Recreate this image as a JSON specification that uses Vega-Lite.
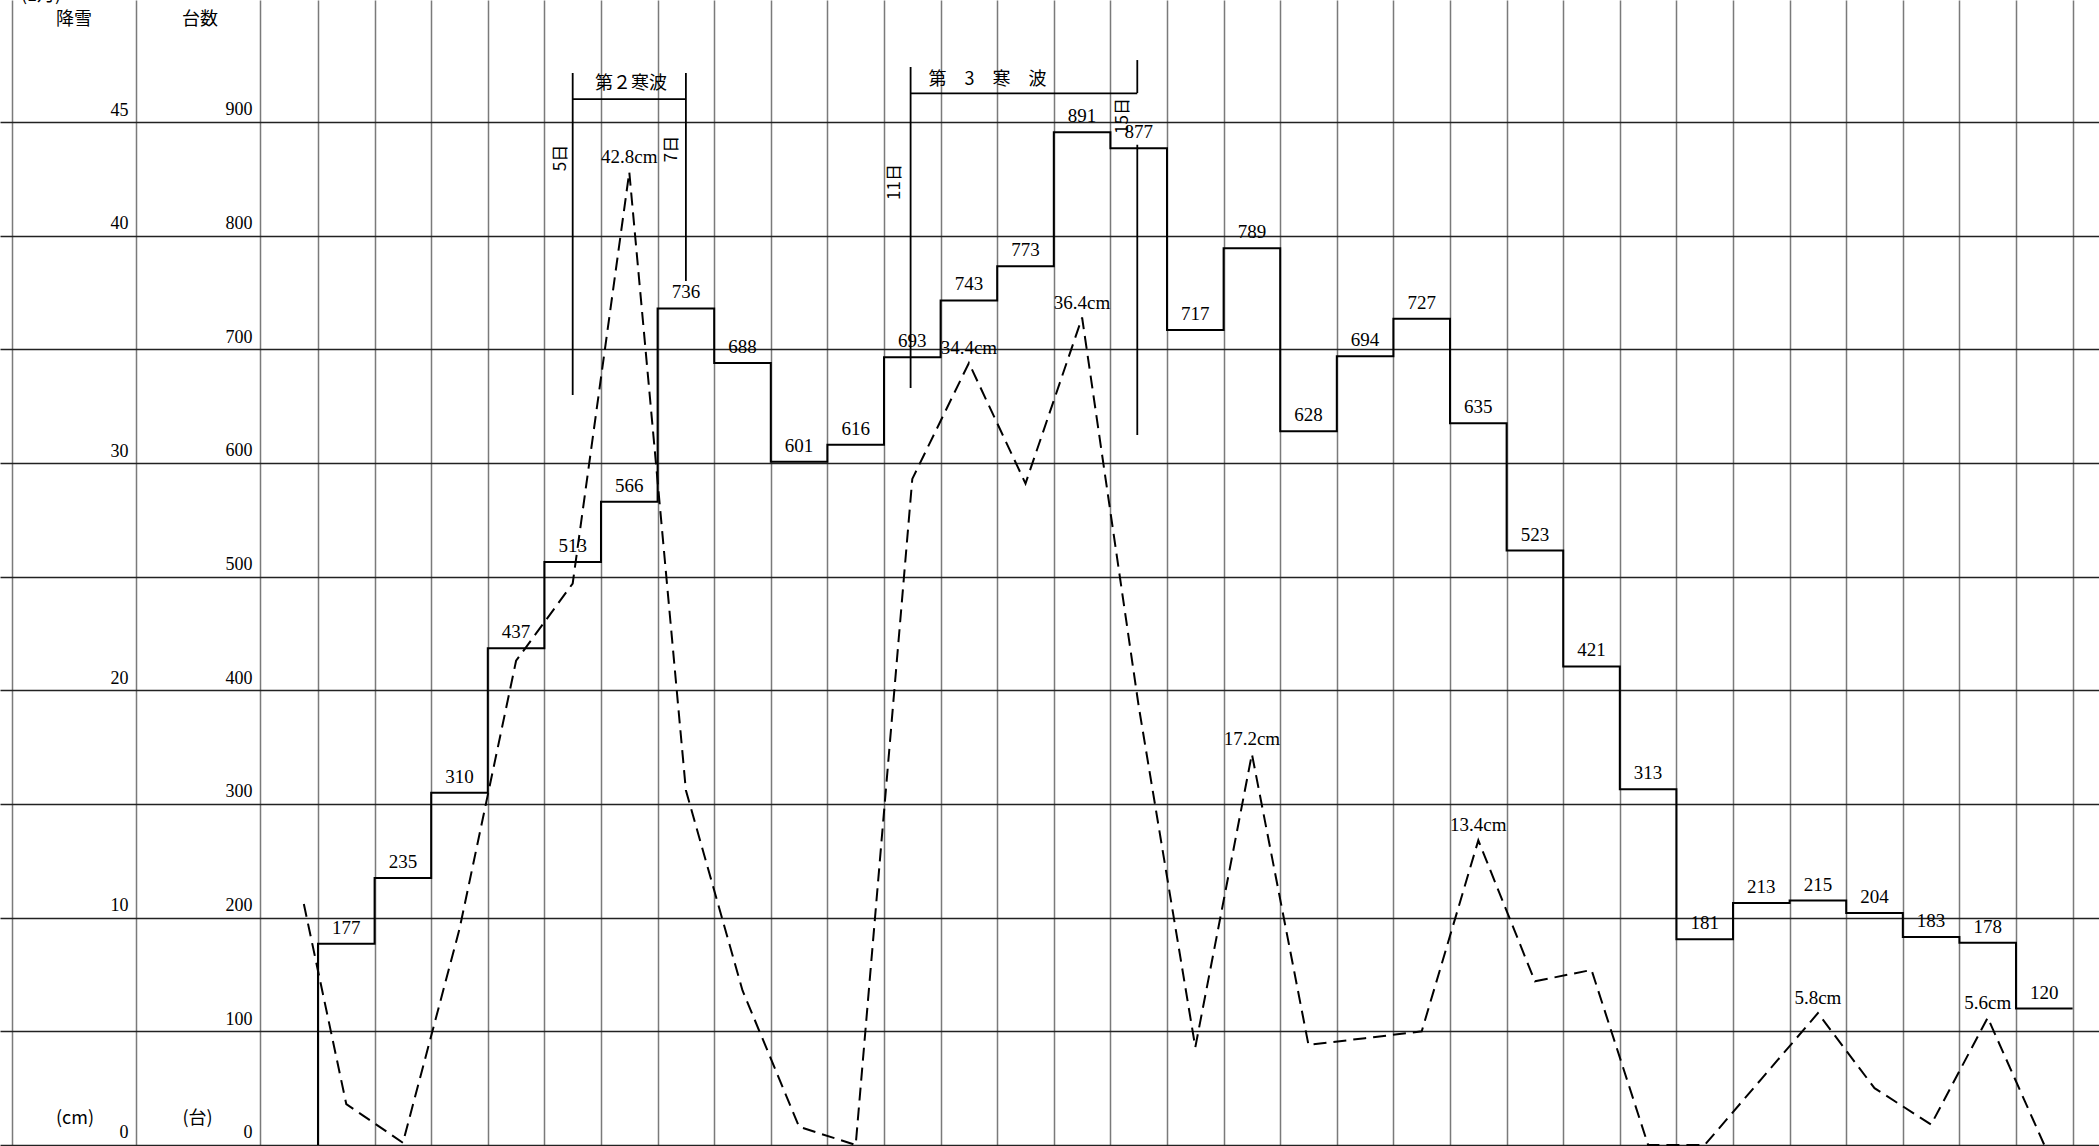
{
  "$schema": "https://vega.github.io/schema/vega-lite/v6.json",
  "width": 2099,
  "height": 1146,
  "autosize": {"type": "none"},
  "padding": 0,
  "background": "white",
  "config": {"view": {"stroke": null}},
  "datasets": {
    "counts": [
      {"day": 0, "count": 0},
      {"day": 1, "count": 177}, {"day": 2, "count": 235}, {"day": 3, "count": 310}, {"day": 4, "count": 437},
      {"day": 5, "count": 513}, {"day": 6, "count": 566}, {"day": 7, "count": 736}, {"day": 8, "count": 688},
      {"day": 9, "count": 601}, {"day": 10, "count": 616}, {"day": 11, "count": 693}, {"day": 12, "count": 743},
      {"day": 13, "count": 773}, {"day": 14, "count": 891}, {"day": 15, "count": 877}, {"day": 16, "count": 717},
      {"day": 17, "count": 789}, {"day": 18, "count": 628}, {"day": 19, "count": 694}, {"day": 20, "count": 727},
      {"day": 21, "count": 635}, {"day": 22, "count": 523}, {"day": 23, "count": 421}, {"day": 24, "count": 313},
      {"day": 25, "count": 181}, {"day": 26, "count": 213}, {"day": 27, "count": 215}, {"day": 28, "count": 204},
      {"day": 29, "count": 183}, {"day": 30, "count": 178}, {"day": 31, "count": 120}
    ],
    "snow": [
      {"day": 0.25, "cm": 10.6},
      {"day": 1, "cm": 1.8}, {"day": 2, "cm": 0.1}, {"day": 3, "cm": 9.5}, {"day": 4, "cm": 21.3},
      {"day": 5, "cm": 24.7}, {"day": 6, "cm": 42.8, "label": "42.8cm"}, {"day": 7, "cm": 15.6}, {"day": 8, "cm": 6.8},
      {"day": 9, "cm": 0.8}, {"day": 10, "cm": 0}, {"day": 11, "cm": 29.3}, {"day": 12, "cm": 34.4, "label": "34.4cm"},
      {"day": 13, "cm": 29.1}, {"day": 14, "cm": 36.4, "label": "36.4cm"}, {"day": 15, "cm": 19.3}, {"day": 16, "cm": 4.3},
      {"day": 17, "cm": 17.2, "label": "17.2cm"}, {"day": 18, "cm": 4.4}, {"day": 19, "cm": 4.7}, {"day": 20, "cm": 5.0},
      {"day": 21, "cm": 13.4, "label": "13.4cm"}, {"day": 22, "cm": 7.2}, {"day": 23, "cm": 7.7}, {"day": 24, "cm": 0},
      {"day": 25, "cm": 0}, {"day": 26, "cm": 2.9}, {"day": 27, "cm": 5.8, "label": "5.8cm"}, {"day": 28, "cm": 2.5},
      {"day": 29, "cm": 0.9}, {"day": 30, "cm": 5.6, "label": "5.6cm"}, {"day": 31, "cm": 0}
    ],
    "brackets": [
      {"x": 5, "x2": 5, "y": 943.1, "y2": 659.8},
      {"x": 7, "x2": 7, "y": 943.1, "y2": 760.1},
      {"x": 5, "x2": 7, "y": 920.2, "y2": 920.2},
      {"x": 10.97, "x2": 10.97, "y": 948.4, "y2": 666.0},
      {"x": 14.975, "x2": 14.975, "y": 954.5, "y2": 925.5},
      {"x": 14.975, "x2": 14.975, "y": 880.0, "y2": 624.6},
      {"x": 10.97, "x2": 14.975, "y": 925.2, "y2": 925.2}
    ],
    "notes": [
      {"text": "降雪", "x": -3.811, "y": 989.7},
      {"text": "台数", "x": -1.585, "y": 989.7},
      {"text": "(cm)", "x": -3.793, "y": 22.9},
      {"text": "(台)", "x": -1.629, "y": 22.9},
      {"text": "(1月)", "x": -4.394, "y": 1010.5},
      {"text": "第２寒波", "x": 6.03, "y": 933.4},
      {"text": "第　3　寒　波", "x": 12.329, "y": 936.9}
    ],
    "vnotes": [
      {"text": "5日", "x": 4.788, "y": 868.3},
      {"text": "7日", "x": 6.749, "y": 876.2},
      {"text": "11日", "x": 10.694, "y": 847.2},
      {"text": "15日", "x": 14.723, "y": 905.3}
    ]
  },
  "layer": [
    {
      "data": {"name": "counts"},
      "mark": {"type": "line", "interpolate": "step-before", "color": "black", "strokeWidth": 2},
      "encoding": {
        "x": {
          "field": "day", "type": "quantitative",
          "scale": {"domain": [-5.618, 31.466], "nice": false, "zero": false},
          "axis": {
            "values": [-5.406, -3.216, -1.025, 0, 1, 2, 3, 4, 5, 6, 7, 8, 9, 10, 11, 12, 13, 14, 15, 16, 17, 18, 19, 20, 21, 22, 23, 24, 25, 26, 27, 28, 29, 30, 31],
            "grid": true, "gridColor": "#7a7a7a", "gridWidth": 1.5,
            "labels": false, "ticks": false, "domain": false, "title": null
          }
        },
        "y": {
          "field": "count", "type": "quantitative",
          "scale": {"domain": [-0.88, 1007.33], "nice": false, "zero": false},
          "axis": {
            "values": [0, 100, 200, 300, 400, 500, 600, 700, 800, 900],
            "orient": "left", "offset": -256,
            "grid": true, "gridColor": "#222222", "gridWidth": 1.4,
            "ticks": false, "domain": false, "title": null,
            "labelAlign": "right", "labelBaseline": "bottom", "labelPadding": 4, "labelOffset": -3,
            "labelFont": "Liberation Serif", "labelFontSize": 18, "labelColor": "black",
            "labelOverlap": false, "labelFlush": false
          }
        }
      }
    },
    {
      "data": {"name": "snow"},
      "mark": {"type": "line", "color": "black", "strokeWidth": 2, "strokeDash": [13, 7]},
      "encoding": {
        "x": {
          "field": "day", "type": "quantitative",
          "scale": {"domain": [-5.118, 31.966], "nice": false, "zero": false},
          "axis": null
        },
        "y": {
          "field": "cm", "type": "quantitative",
          "scale": {"domain": [-0.044, 50.367], "nice": false, "zero": false},
          "axis": {
            "values": [0, 10, 20, 30, 40, 45],
            "orient": "left", "offset": -132,
            "grid": false, "ticks": false, "domain": false, "title": null,
            "labelAlign": "right", "labelBaseline": "bottom", "labelPadding": 4, "labelOffset": -3,
            "labelFont": "Liberation Serif", "labelFontSize": 18, "labelColor": "black",
            "labelOverlap": false, "labelFlush": false
          }
        }
      }
    },
    {
      "data": {"name": "counts"},
      "transform": [{"filter": "datum.day > 0"}],
      "mark": {"type": "text", "font": "Liberation Serif", "fontSize": 19, "color": "black", "align": "center", "baseline": "bottom", "dy": -6},
      "encoding": {
        "x": {"field": "day", "type": "quantitative", "scale": {"domain": [-5.118, 31.966], "nice": false, "zero": false}, "axis": null},
        "y": {"field": "count", "type": "quantitative", "scale": {"domain": [-0.88, 1007.33], "nice": false, "zero": false}, "axis": null},
        "text": {"field": "count", "type": "quantitative"}
      }
    },
    {
      "data": {"name": "snow"},
      "transform": [{"filter": "isValid(datum.label)"}],
      "mark": {"type": "text", "font": "Liberation Serif", "fontSize": 19, "color": "black", "align": "center", "baseline": "bottom", "dy": -5},
      "encoding": {
        "x": {"field": "day", "type": "quantitative", "scale": {"domain": [-5.118, 31.966], "nice": false, "zero": false}, "axis": null},
        "y": {"field": "cm", "type": "quantitative", "scale": {"domain": [-0.044, 50.367], "nice": false, "zero": false}, "axis": null},
        "text": {"field": "label", "type": "nominal"}
      }
    },
    {
      "data": {"name": "brackets"},
      "mark": {"type": "rule", "color": "black", "strokeWidth": 1.8},
      "encoding": {
        "x": {"field": "x", "type": "quantitative", "scale": {"domain": [-5.118, 31.966], "nice": false, "zero": false}, "axis": null},
        "x2": {"field": "x2"},
        "y": {"field": "y", "type": "quantitative", "scale": {"domain": [-0.88, 1007.33], "nice": false, "zero": false}, "axis": null},
        "y2": {"field": "y2"}
      }
    },
    {
      "data": {"name": "notes"},
      "mark": {"type": "text", "font": "Noto Sans CJK JP", "fontSize": 18, "color": "black", "align": "center", "baseline": "middle"},
      "encoding": {
        "x": {"field": "x", "type": "quantitative", "scale": {"domain": [-5.118, 31.966], "nice": false, "zero": false}, "axis": null},
        "y": {"field": "y", "type": "quantitative", "scale": {"domain": [-0.88, 1007.33], "nice": false, "zero": false}, "axis": null},
        "text": {"field": "text", "type": "nominal"}
      }
    },
    {
      "data": {"name": "vnotes"},
      "mark": {"type": "text", "font": "Noto Sans CJK JP", "fontSize": 17, "color": "black", "align": "center", "baseline": "middle", "angle": 270},
      "encoding": {
        "x": {"field": "x", "type": "quantitative", "scale": {"domain": [-5.118, 31.966], "nice": false, "zero": false}, "axis": null},
        "y": {"field": "y", "type": "quantitative", "scale": {"domain": [-0.88, 1007.33], "nice": false, "zero": false}, "axis": null},
        "text": {"field": "text", "type": "nominal"}
      }
    }
  ],
  "resolve": {
    "scale": {"x": "independent", "y": "independent"},
    "axis": {"x": "independent", "y": "independent"}
  }
}
